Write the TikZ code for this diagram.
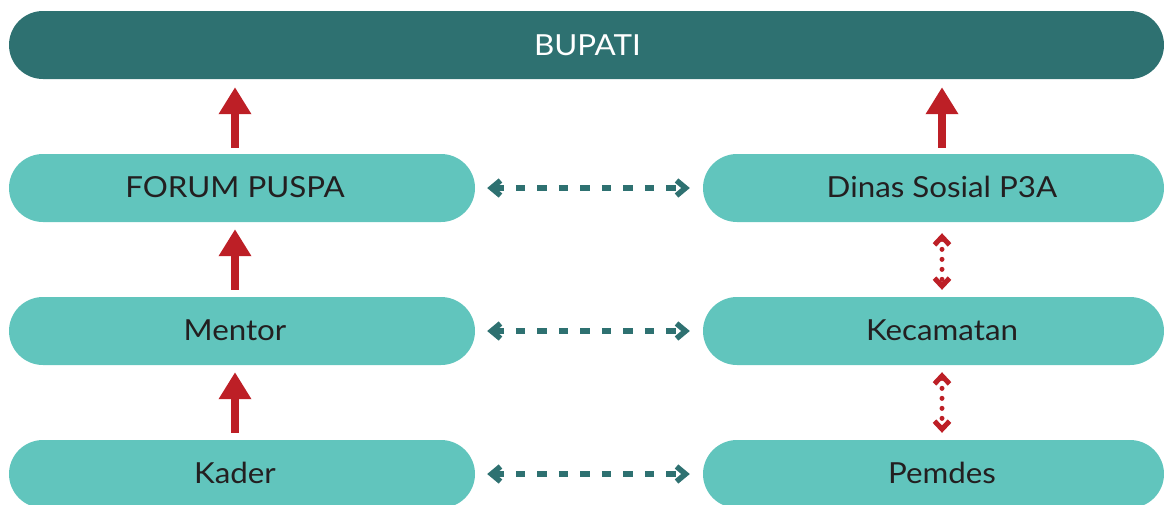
\documentclass[tikz,border=0pt]{standalone}
\usepackage{fontspec}
\setmainfont{Lato}[FakeStretch=1.08]
\usetikzlibrary{arrows.meta, positioning, shapes.misc}
\definecolor{darkteal}{HTML}{2E7171}
\definecolor{lightteal}{HTML}{61C5BD}
\definecolor{arrowred}{HTML}{BD1F26}
\definecolor{textgray}{HTML}{231F20}

\begin{document}
\begin{tikzpicture}[x=1pt, y=-1pt,
    pill/.style={rounded rectangle, fill=lightteal, minimum height=68pt, inner sep=0pt},
    toppill/.style={pill, fill=darkteal},
    txt/.style={anchor=base, text=textgray, font=\fontsize{29}{34}\selectfont},
    redup/.style={draw=arrowred, line width=8pt, -{Triangle[width=31pt, length=27pt]}},
    tealink/.style={draw=darkteal, line width=5.5pt, dash pattern=on 9.5pt off 12pt,
        {Straight Barb[length=9pt, width=15pt]}-{Straight Barb[length=9pt, width=15pt]},
        shorten <=12pt, shorten >=13pt},
    redlink/.style={draw=arrowred, line width=5pt, line cap=round, dash pattern=on 0pt off 10pt,
        {Straight Barb[length=8pt, width=15pt]}-{Straight Barb[length=8pt, width=15pt]}}
]
\useasboundingbox (0,0) rectangle (1164,504);

% Top bar
\node[toppill, minimum width=1155pt] (bupati) at (586.5,45) {};
\node[txt, text=white] (bupatit) at ([xshift=1pt, yshift=-10pt]bupati.center) {BUPATI};

% Left column
\foreach \name/\y/\label in {forum/188/FORUM PUSPA, mentor/331/Mentor, kader/474/Kader} {
    \node[pill, minimum width=466pt] (\name) at (242,\y) {};
    \node[txt] (\name t) at ([xshift=-7pt, yshift=-9.5pt]\name.center) {\label};
}

% Right column
\foreach \name/\y/\label in {dinas/188/Dinas Sosial P3A, kecamatan/331/Kecamatan, pemdes/474/Pemdes} {
    \node[pill, minimum width=461pt] (\name) at (933.5,\y) {};
    \node[txt] (\name t) at ([xshift=8.5pt, yshift=-9.5pt]\name.center) {\label};
}

% Reporting lines
\draw[redup, shorten <=6pt, shorten >=8pt] (forum.north -| forumt) -- (bupati.south -| forumt);
\draw[redup, shorten <=7pt, shorten >=7pt] (mentor.north -| mentort) -- (forum.south -| forumt);
\draw[redup, shorten <=7pt, shorten >=7pt] (kader.north -| kadert) -- (mentor.south -| mentort);
\draw[redup, shorten <=6pt, shorten >=8pt] (dinas.north -| dinast) -- (bupati.south -| dinast);

% Coordination
\foreach \a/\b in {forum/dinas, mentor/kecamatan, kader/pemdes} {
    \draw[tealink] (\a.east) -- (\b.west);
}
\draw[redlink, shorten <=11pt, shorten >=7pt] (dinas.south -| dinast) -- (kecamatan.north -| kecamatant);
\draw[redlink, shorten <=7pt, shorten >=7pt] (kecamatan.south -| kecamatant) -- (pemdes.north -| pemdest);

\end{tikzpicture}
\end{document}
